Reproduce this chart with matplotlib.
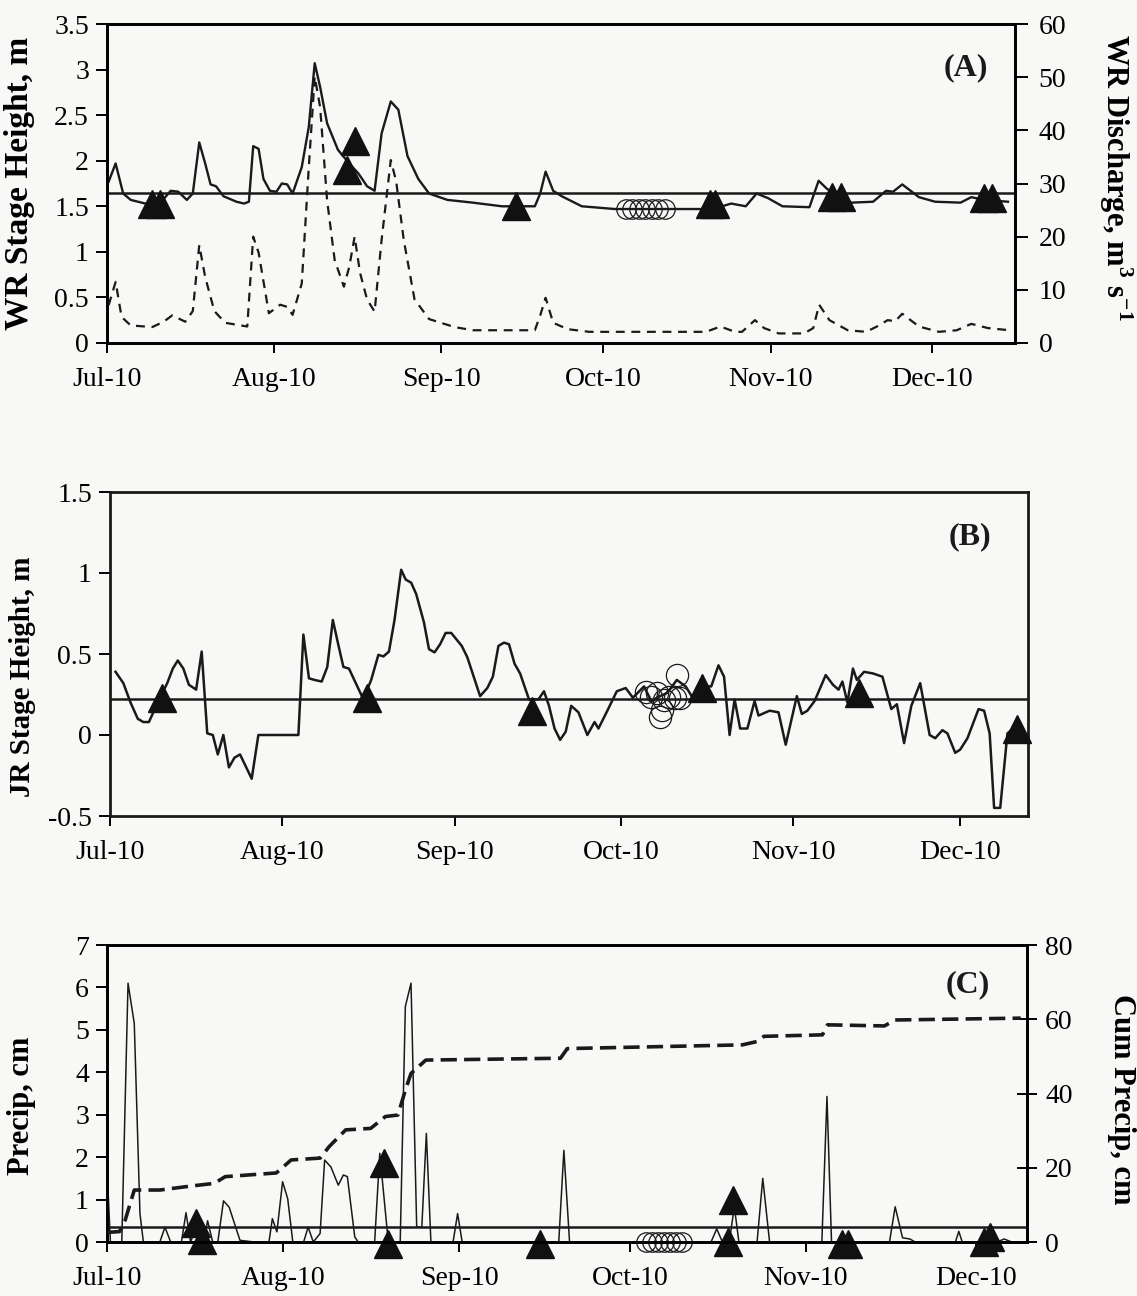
import numpy as np
import matplotlib
matplotlib.use('Agg')
import matplotlib.pyplot as plt
import matplotlib.dates as mdates

plt.rcParams['font.family'] = ['Liberation Serif', 'DejaVu Serif']
plt.rcParams['mathtext.fontset'] = 'custom'
plt.rcParams['mathtext.rm'] = 'Liberation Serif'
plt.rcParams['mathtext.bf'] = 'Liberation Serif:bold'
plt.rcParams['text.color'] = '#1a1a1a'

# days are counted from 1 July 2010
START = mdates.date2num(np.datetime64('2010-07-01'))

# ---- (A) WR stage height (m) and discharge (m3/s)
wr_stage_day = [0.3, 1.6, 3.0, 4.4, 7.1, 9.8, 11.8, 13.2, 14.8, 15.9, 17.1, 18.2, 19.2, 20.2, 21.6,
                24.0, 25.4, 26.3, 27.1, 28.1, 29.0, 30.2, 31.4, 32.4, 33.4, 34.4, 36.1, 37.4, 38.5,
                39.5, 40.8, 42.8, 44.9, 46.6, 48.2, 49.6, 50.9, 52.6, 54.0, 55.7, 57.7, 59.7, 63.1,
                67.8, 73.2, 79.3, 80.3, 81.3, 82.7, 84.3, 88.0, 94.1, 112.3, 115.7, 118.4, 120.4,
                122.5, 125.2, 130.2, 131.9, 133.3, 136.0, 138.0, 142.0, 144.4, 145.7, 147.4, 150.5,
                153.5, 158.2, 160.2, 162.6, 167.0]
wr_stage = [1.77, 1.97, 1.64, 1.57, 1.53, 1.53, 1.67, 1.66, 1.57, 1.64, 2.20, 1.97, 1.74, 1.72, 1.61,
            1.55, 1.53, 1.55, 2.16, 2.13, 1.80, 1.67, 1.66, 1.75, 1.74, 1.64, 1.93, 2.37, 3.07,
            2.81, 2.41, 2.12, 1.97, 1.86, 1.72, 1.67, 2.30, 2.65, 2.56, 2.05, 1.80, 1.64, 1.57,
            1.54, 1.50, 1.50, 1.64, 1.88, 1.67, 1.61, 1.50, 1.47, 1.47, 1.53, 1.50, 1.64,
            1.59, 1.50, 1.49, 1.78, 1.70, 1.57, 1.54, 1.55, 1.67, 1.66, 1.74, 1.60,
            1.55, 1.54, 1.60, 1.57, 1.55]

wr_q_day = [0.3, 1.6, 2.7, 4.4, 8.4, 10.5, 12.1, 14.5, 15.9, 17.1, 18.2, 19.9, 21.9, 26.0, 27.1,
            28.1, 30.0, 32.1, 33.4, 34.4, 36.1, 37.4, 38.5, 39.5, 40.8, 42.2, 43.9, 44.9, 45.9,
            46.9, 48.2, 49.6, 50.9, 52.6, 53.6, 55.0, 57.0, 59.7, 64.4, 67.8, 79.3, 80.3, 81.3,
            82.7, 85.4, 89.4, 111.0, 113.7, 116.4, 117.7, 120.1, 121.8, 124.5, 129.2, 130.9,
            132.0, 133.9, 137.3, 140.7, 142.7, 144.7, 146.1, 147.4, 150.5, 154.2, 157.5, 160.2,
            163.3, 167.3]
wr_q = [7.1, 11.5, 4.9, 3.3, 3.0, 4.0, 5.2, 4.0, 6.0, 18.4, 12.4, 6.0, 3.8, 3.1, 20.0,
        17.0, 5.6, 7.2, 6.8, 5.3, 11.2, 33.0, 50.1, 44.4, 26.8, 15.6, 10.6, 14.3, 20.0,
        13.2, 8.2, 5.9, 19.4, 34.4, 30.4, 19.4, 8.2, 4.5, 3.0, 2.4, 2.4, 5.2, 8.5,
        3.8, 2.6, 2.1, 2.1, 3.1, 2.1, 2.1, 4.3, 2.8, 1.8, 1.8, 2.8,
        7.2, 4.3, 2.4, 2.1, 3.1, 4.3, 4.1, 5.5, 3.1, 2.1, 2.4, 3.6,
        2.8, 2.4]

wr_mean = 1.65
wr_tri_day = [8.4, 9.8, 44.5, 45.9, 75.9, 111.7, 112.7, 134.3, 136.0, 162.6, 164.0]
wr_tri = [1.53, 1.53, 1.90, 2.22, 1.50, 1.52, 1.52, 1.60, 1.60, 1.59, 1.59]
wr_circ_day = [96.2, 97.4, 98.6, 99.8, 101.0, 102.2, 103.4]
wr_circ = [1.47, 1.47, 1.47, 1.47, 1.47, 1.47, 1.47]

# ---- (B) JR stage height (m)
jr_day = [1.0, 2.4, 3.7, 5.0, 6.0, 7.0, 9.0, 10.3, 11.3, 12.2, 13.2, 14.2, 15.5, 16.5, 17.5,
          18.5, 19.4, 20.4, 21.4, 22.4, 23.4, 25.5, 26.7, 33.9, 34.8, 35.8, 36.8, 38.1, 39.1,
          40.1, 41.1, 42.0, 43.0, 45.6, 47.0, 48.3, 49.2, 50.2, 51.2, 52.4, 53.2, 54.2, 55.1,
          56.5, 57.4, 58.4, 59.4, 60.4, 61.4, 63.3, 64.3, 66.6, 67.9, 68.9, 69.9, 70.9, 71.8,
          72.8, 73.8, 75.4, 77.1, 78.1, 79.0, 80.0, 81.0, 82.0, 83.0, 84.3, 85.9, 87.2, 87.9,
          89.5, 91.2, 92.8, 94.1, 96.1, 97.4, 99.0, 100.3, 102.0, 103.6, 105.2, 106.5, 108.2,
          109.5, 110.5, 111.5, 112.4, 113.4, 114.7, 116.0, 116.7, 118.7, 120.3, 121.6, 123.6,
          124.5, 125.5, 126.8, 128.8, 130.1, 131.1, 131.8, 132.7, 133.7, 134.4, 135.7, 137.3,
          139.0, 140.6, 141.6, 142.9, 144.2, 145.8, 147.5, 148.5, 149.8, 150.7, 152.1, 153.0,
          154.3, 156.3, 157.3, 158.3, 159.1, 160.2, 161.5, 163.2]
jr_stage = [0.39, 0.32, 0.20, 0.10, 0.08, 0.08, 0.23, 0.32, 0.41, 0.46, 0.41, 0.31, 0.28, 0.515, 0.01,
            0.0, -0.12, 0.0, -0.20, -0.14, -0.12, -0.27, 0.0, 0.0, 0.62, 0.35, 0.34, 0.33, 0.42,
            0.71, 0.555, 0.42, 0.41, 0.22, 0.34, 0.495, 0.485, 0.515, 0.71, 1.02, 0.96, 0.94, 0.87,
            0.695, 0.53, 0.51, 0.56, 0.63, 0.63, 0.55, 0.48, 0.24, 0.29, 0.36, 0.55, 0.57, 0.56,
            0.44, 0.38, 0.22, 0.22, 0.27, 0.18, 0.04, -0.03, 0.02, 0.18, 0.14, 0.0, 0.08, 0.04,
            0.15, 0.27, 0.29, 0.23, 0.30, 0.21, 0.24, 0.26, 0.34, 0.30, 0.21, 0.30, 0.30,
            0.43, 0.36, 0.0, 0.22, 0.04, 0.04, 0.21, 0.12, 0.15, 0.14, -0.06, 0.24,
            0.13, 0.15, 0.21, 0.37, 0.31, 0.28, 0.33, 0.20, 0.41, 0.34, 0.39, 0.38,
            0.36, 0.16, 0.19, -0.05, 0.18, 0.32, 0.0, -0.02, 0.03, 0.01, -0.11, -0.09,
            -0.02, 0.16, 0.15, 0.01, -0.45, -0.45, 0.01, 0.06]

jr_mean = 0.225
jr_tri_day = [9.3, 46.3, 75.9, 106.5, 134.7, 163.2]
jr_tri = [0.23, 0.23, 0.15, 0.29, 0.26, 0.04]
jr_circ_day = [96.4, 97.4, 98.4, 99.7, 100.6, 99.3, 99.0, 102.0, 101.6, 102.6]
jr_circ = [0.267, 0.237, 0.257, 0.216, 0.237, 0.155, 0.113, 0.37, 0.227, 0.227]

# ---- (C) daily and cumulative precipitation (cm)
pr_day = [0.1, 0.6, 2.6, 3.7, 4.8, 5.8, 6.4, 9.3, 10.2, 11.2, 13.1, 13.9, 14.7, 16.0, 17.0,
          17.7, 18.6, 19.5, 20.5, 21.5, 23.4, 25.9, 28.5, 29.1, 29.9, 30.9, 31.8, 32.7, 34.6,
          35.4, 36.3, 37.5, 38.3, 39.4, 40.7, 41.6, 42.3, 43.6, 44.2, 47.1, 48.0, 49.5, 51.6,
          52.5, 53.5, 54.5, 55.4, 56.2, 57.0, 60.9, 61.7, 62.5, 79.5, 80.4, 81.4, 106.3, 107.3,
          108.3, 109.5, 110.4, 111.2, 114.4, 115.4, 116.6, 125.8, 126.7, 127.5, 137.7, 138.7,
          140.0, 141.3, 142.2, 149.3, 149.9, 150.5, 156.6, 157.9, 159.2, 161.8]
precip = [1.45, 0.0, 0.0, 6.1, 5.15, 0.67, 0.0, 0.0, 0.35, 0.0, 0.0, 0.69, 0.0, 0.45, 0.0,
          0.5, 0.0, 0.0, 0.97, 0.82, 0.04, 0.0, 0.0, 0.55, 0.24, 1.42, 1.02, 0.0, 0.0,
          0.35, 0.0, 0.2, 1.93, 1.77, 1.34, 1.58, 1.54, 0.12, 0.0, 0.0, 2.09, 0.0, 0.0,
          5.55, 6.1, 0.35, 0.35, 2.56, 0.0, 0.0, 0.67, 0.0, 0.0, 2.16, 0.0, 0.0, 0.31,
          0.0, 0.0, 0.83, 0.0, 0.0, 1.50, 0.0, 0.0, 3.43, 0.0, 0.0, 0.83,
          0.1, 0.07, 0.0, 0.0, 0.25, 0.0, 0.0, 0.07, 0.0, 0.0]

cum_day = [0.1, 2.2, 3.2, 4.8, 9.3, 14.4, 18.9, 20.8, 29.8, 32.4, 37.5, 39.1, 42.0, 46.4, 49.0,
           51.2, 52.5, 53.5, 56.1, 79.8, 81.0, 111.8, 114.4, 115.6, 125.9, 126.8, 136.8, 138.7,
           160.8]
cum_precip = [2.6, 2.8, 5.9, 14.0, 14.0, 15.0, 15.8, 17.6, 18.6, 22.1, 22.6, 25.7, 30.2, 30.6, 33.8,
              34.2, 40.9, 45.4, 49.0, 49.5, 52.1, 53.1, 54.0, 55.4, 55.8, 58.5, 58.2, 59.8,
              60.3]

pr_mean = 0.35
pr_tri_day = [15.7, 16.7, 48.7, 49.5, 76.2, 109.2, 110.2, 129.4, 130.4, 154.4, 155.4]
pr_tri = [0.45, 0.05, 1.86, -0.04, -0.04, 0.0, 0.99, -0.04, -0.04, 0.0, 0.12]
pr_circ_day = [94.8, 95.9, 96.9, 98.0, 99.1, 100.1, 101.2]
pr_circ = [0.0, 0.0, 0.0, 0.0, 0.0, 0.0, 0.0]


def t(days):
    return START + np.asarray(days, dtype=float)


def style_axes(ax, xmax_day, ylim, yticks, yfmt):
    ax.set_facecolor('none')
    ax.set_xlim(t(0), t(xmax_day))
    ax.set_ylim(*ylim)
    ax.set_yticks(yticks)
    ax.set_yticklabels([yfmt(v) for v in yticks])
    ax.xaxis.set_major_locator(mdates.MonthLocator())
    ax.xaxis.set_major_formatter(mdates.DateFormatter('%b-%y'))
    ax.tick_params(axis='x', direction='out', length=7, width=1.4, pad=10, labelsize=20)
    ax.tick_params(axis='y', direction='out', length=8, width=1.4, pad=5, labelsize=20)
    for s in ax.spines.values():
        s.set_linewidth(2.0)
        s.set_color('#1a1a1a')


def fmt_num(v):
    return ('%g' % v)


def markers(ax, tri_day, tri, circ_day, circ, csize):
    ax.plot(t(circ_day), circ, 'o', ms=csize, mfc='none', mec='#1a1a1a', mew=0.9,
            clip_on=False, zorder=4)
    ax.plot(t(tri_day), tri, '^', ms=20, color='#111111', clip_on=False, zorder=5)


fig = plt.figure(figsize=(11.37, 12.96), dpi=100)
fig.patch.set_facecolor('#f8f8f6')

# (A)
axA = fig.add_axes([107 / 1137, 1 - 343 / 1296, 908 / 1137, 319 / 1296])
style_axes(axA, 168.3, (0, 3.5), np.arange(0, 3.51, 0.5), fmt_num)
axA.plot(t(wr_stage_day), wr_stage, color='#1a1a1a', lw=1.7, zorder=3)
axA.axhline(wr_mean, color='#1a1a1a', lw=1.8, zorder=2)
markers(axA, wr_tri_day, wr_tri, wr_circ_day, wr_circ, 14)
axA.set_ylabel('WR Stage Height, m', fontsize=24, fontweight='bold')
axA.yaxis.set_label_coords(-0.079, 0.5)
axA.text(0.97, 0.84, '(A)', transform=axA.transAxes, ha='right', fontsize=23,
         fontweight='bold')

axA2 = axA.twinx()
axA2.set_ylim(0, 60)
axA2.set_yticks(np.arange(0, 61, 10))
axA2.tick_params(axis='y', direction='out', length=9, width=1.4, pad=8, labelsize=20)
axA2.plot(t(wr_q_day), wr_q, color='#1a1a1a', lw=1.6, dashes=(4, 3), zorder=3)
for s in axA2.spines.values():
    s.set_linewidth(2.0)
axA2.set_ylabel('WR Discharge, m$^\\mathbf{3}$ s$^\\mathbf{-1}$', fontsize=22,
                fontweight='bold', rotation=270, va='bottom')
axA2.yaxis.set_label_coords(1.09, 0.52)

# (B)
axB = fig.add_axes([110 / 1137, 1 - 816 / 1296, 918 / 1137, 324 / 1296])
style_axes(axB, 165.2, (-0.5, 1.5), np.arange(-0.5, 1.51, 0.5), fmt_num)
axB.plot(t(jr_day), jr_stage, color='#1a1a1a', lw=1.8, zorder=3)
axB.axhline(jr_mean, color='#1a1a1a', lw=1.8, zorder=2)
markers(axB, jr_tri_day, jr_tri, jr_circ_day, jr_circ, 16)
axB.set_ylabel('JR Stage Height, m', fontsize=21, fontweight='bold')
axB.yaxis.set_label_coords(-0.081, 0.43)
axB.text(0.96, 0.84, '(B)', transform=axB.transAxes, ha='right', fontsize=23,
         fontweight='bold')

# (C)
axC = fig.add_axes([107 / 1137, 1 - 1242 / 1296, 920 / 1137, 297 / 1296])
style_axes(axC, 161.9, (0, 7), np.arange(0, 8, 1), fmt_num)
axC.plot(t(pr_day), precip, color='#1a1a1a', lw=1.1, zorder=3)
axC.axhline(pr_mean, color='#1a1a1a', lw=1.8, zorder=2)
markers(axC, pr_tri_day, pr_tri, pr_circ_day, pr_circ, 14)
axC.set_ylabel('Precip, cm', fontsize=22, fontweight='bold')
axC.yaxis.set_label_coords(-0.077, 0.46)
axC.text(0.96, 0.84, '(C)', transform=axC.transAxes, ha='right', fontsize=23,
         fontweight='bold')

axC2 = axC.twinx()
axC2.set_ylim(0, 80)
axC2.set_yticks(np.arange(0, 81, 20))
axC2.tick_params(axis='y', direction='inout', length=14, width=1.4, pad=6, labelsize=20)
axC2.plot(t(cum_day), cum_precip, color='#1a1a1a', lw=2.6, dashes=(4.5, 2.0), zorder=3)
for s in axC2.spines.values():
    s.set_linewidth(2.0)
axC2.set_ylabel('Cum Precip, cm', fontsize=22, fontweight='bold', rotation=270, va='bottom')
axC2.yaxis.set_label_coords(1.087, 0.48)

fig.savefig('out.png', dpi=100, facecolor=fig.get_facecolor())
